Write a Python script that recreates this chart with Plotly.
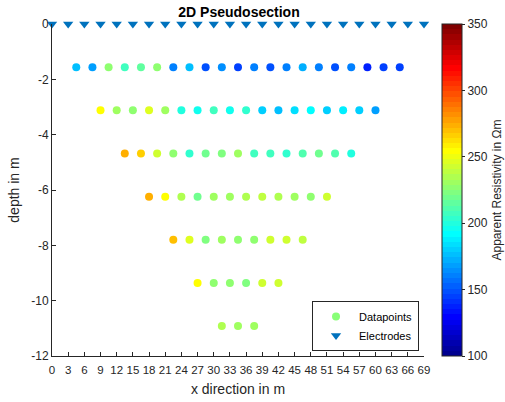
import plotly.graph_objects as go

# Survey geometry: 24 electrodes every 3 m, Wenner-type readings
electrode_x = list(range(0, 70, 3))
spacing = 3
depth_factor = 0.52

# Apparent resistivity (Ohm m) per pseudo-depth level, left to right
rho_n1 = [178, 169, 225, 209, 215, 228, 159, 178, 147, 166, 144,
          162, 150, 159, 171, 159, 150, 162, 136, 144, 144]
rho_n2 = [256, 232, 228, 248, 232, 200, 197, 206, 194, 203, 181,
          175, 185, 190, 181, 187, 181, 169]
rho_n3 = [275, 266, 241, 228, 203, 219, 222, 232, 209, 209, 203,
          212, 219, 212, 200]
rho_n4 = [272, 256, 234, 219, 232, 232, 234, 237, 234, 232, 225, 241]
rho_n5 = [270, 248, 222, 230, 228, 225, 241, 244, 237]
rho_n6 = [255, 225, 228, 222, 241, 241]
rho_n7 = [234, 232, 232]
rho_levels = [rho_n1, rho_n2, rho_n3, rho_n4, rho_n5, rho_n6, rho_n7]

cmin, cmax = 100, 350
cbar_ticks = [100, 150, 200, 250, 300, 350]
depth_ticks = [-12, -10, -8, -6, -4, -2, 0]

# Pseudosection point positions: midpoint of the array, depth ~ 0.52 * n * a
px, py, pv = [], [], []
for n, rho in enumerate(rho_levels, start=1):
    for i, v in enumerate(rho):
        px.append((electrode_x[i] + electrode_x[i + 3 * n]) / 2)
        py.append(-depth_factor * n * spacing)
        pv.append(v)


def jet(t):
    r = min(max(1.5 - abs(4 * t - 3), 0), 1)
    g = min(max(1.5 - abs(4 * t - 2), 0), 1)
    b = min(max(1.5 - abs(4 * t - 1), 0), 1)
    return f"rgb({round(r * 255)},{round(g * 255)},{round(b * 255)})"


# 64-level stepped jet colormap
N = 64
jet_scale = []
for k in range(N):
    c = jet((k + 1) / N)
    jet_scale.append([k / N, c])
    jet_scale.append([(k + 1) / N, c])

FONT = "Liberation Sans, Arial, Helvetica, sans-serif"
INK = "#262626"

fig = go.Figure()

fig.add_trace(go.Scatter(
    x=px, y=py, mode="markers", showlegend=False,
    marker=dict(
        size=8, color=pv, colorscale=jet_scale, cmin=cmin, cmax=cmax,
        line=dict(width=0),
        colorbar=dict(
            x=1.048, xanchor="left", y=0.5, yanchor="middle",
            len=1, lenmode="fraction", thickness=20, thicknessmode="pixels",
            outlinewidth=1, outlinecolor=INK,
            tickvals=cbar_ticks, ticks="outside", ticklen=3, tickcolor=INK,
            tickfont=dict(family=FONT, size=12, color=INK),
            title=dict(text="Apparent Resistivity in Ωm", side="right",
                       font=dict(family=FONT, size=12, color=INK)),
            xpad=0, ypad=0,
        ),
    ),
))

# legend entry for the resistivity points
fig.add_trace(go.Scatter(
    x=[None], y=[None], mode="markers", name="Datapoints",
    marker=dict(size=8, color="#88ff77"),
))

fig.add_trace(go.Scatter(
    x=electrode_x, y=[0] * len(electrode_x), mode="markers", name="Electrodes",
    marker=dict(symbol="triangle-down", size=9, color="#0072BD"),
    cliponaxis=False,
))

fig.update_layout(
    width=505, height=402,
    margin=dict(l=52, r=81, t=24, b=46, autoexpand=False),
    paper_bgcolor="white", plot_bgcolor="white",
    font=dict(family=FONT, color=INK),
    title=dict(text="<b>2D Pseudosection</b>", x=239 / 505, xref="container",
               xanchor="center", y=1 - 12 / 402, yref="container", yanchor="middle",
               font=dict(family=FONT, size=14, color="black")),
    legend=dict(
        x=0.9866, y=0.015, xanchor="right", yanchor="bottom",
        bordercolor=INK, borderwidth=1, bgcolor="white",
        itemwidth=36,
        font=dict(family=FONT, size=11, color="black"),
    ),
    xaxis=dict(
        range=[0, 69], tickvals=electrode_x, ticks="inside", ticklen=4,
        tickangle=0, automargin=False, ticklabelstandoff=3,
        tickcolor=INK, showline=True, linecolor=INK, linewidth=1,
        showgrid=False, zeroline=False,
        tickfont=dict(family=FONT, size=11.5, color=INK),
        title=dict(text="x direction in m", standoff=9,
                   font=dict(family=FONT, size=14, color=INK)),
    ),
    yaxis=dict(
        range=[-12, 0], tickvals=depth_ticks,
        ticktext=[str(v) for v in depth_ticks],
        ticks="inside", ticklen=4, automargin=False,
        tickcolor=INK, showline=True, linecolor=INK, linewidth=1,
        showgrid=False, zeroline=False,
        tickfont=dict(family=FONT, size=12, color=INK),
        title=dict(text="depth in m", standoff=8,
                   font=dict(family=FONT, size=14, color=INK)),
    ),
)

fig.write_html("out.html")
